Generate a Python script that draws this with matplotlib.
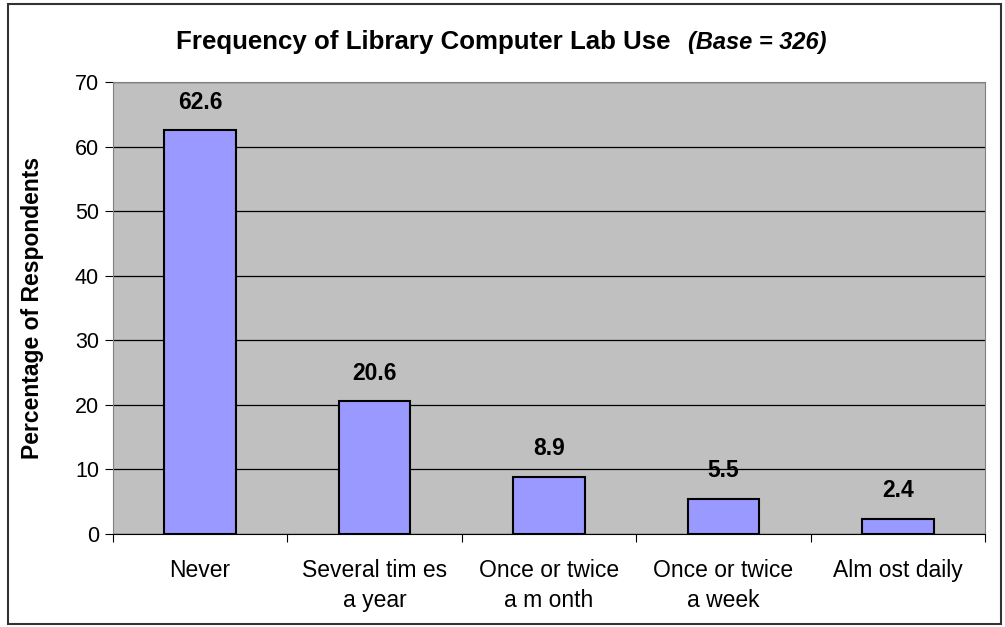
import matplotlib.pyplot as plt
from matplotlib.patches import Rectangle

categories = ["Never", "Several tim es\na year", "Once or twice\na m onth",
              "Once or twice\na week", "Alm ost daily"]
values = [62.6, 20.6, 8.9, 5.5, 2.4]
yticks = [0, 10, 20, 30, 40, 50, 60, 70]

plt.rcParams['font.family'] = ['Liberation Sans', 'DejaVu Sans']

fig = plt.figure(figsize=(10.05, 6.27), dpi=100)
ax = fig.add_axes([0.1124, 0.1483, 0.8677, 0.7209])

# outer frame
fig.patches.append(Rectangle((0.008, 0.004), 0.988, 0.99, transform=fig.transFigure,
                             fill=False, edgecolor='#333333', linewidth=1.5))

x = range(len(values))
ax.set_facecolor('#C0C0C0')
ax.bar(x, values, width=0.41, color='#9999FF', edgecolor='black', linewidth=1.5, zorder=3)
for i, v in enumerate(values):
    ax.text(i, v + 2.5, f"{v}", ha='center', va='bottom', fontsize=16.5, fontweight='bold')

ax.set_xlim(-0.5, len(values) - 0.5)
ax.set_ylim(0, 70)
ax.set_yticks(yticks)
ax.yaxis.grid(True, color='black', linewidth=0.9, zorder=1)
ax.set_axisbelow(True)
ax.tick_params(axis='y', labelsize=15.5, length=6, direction='out', pad=4)
ax.set_xticks([i + 0.5 for i in range(-1, len(values))], minor=False)
ax.set_xticklabels([])
ax.set_xticks(list(x), minor=True)
ax.set_xticklabels(categories, minor=True, fontsize=16.5, linespacing=1.4, va='top')
ax.tick_params(axis='x', which='major', length=6, direction='out')
ax.tick_params(axis='x', which='minor', length=0, pad=18)

for s in ['top', 'right']:
    ax.spines[s].set_color('#808080')
ax.spines['left'].set_color('#808080')
ax.spines['bottom'].set_color('black')

ax.set_ylabel('Percentage of Respondents', fontsize=16.5, fontweight='bold', labelpad=22)

fig.text(0.667, 0.933, "Frequency of Library Computer Lab Use", ha='right', va='center',
         fontsize=18.6, fontweight='bold')
fig.text(0.685, 0.933, "(Base = 326)", ha='left', va='center', fontsize=17,
         fontweight='bold', style='italic')

fig.savefig('out.png', dpi=100)
